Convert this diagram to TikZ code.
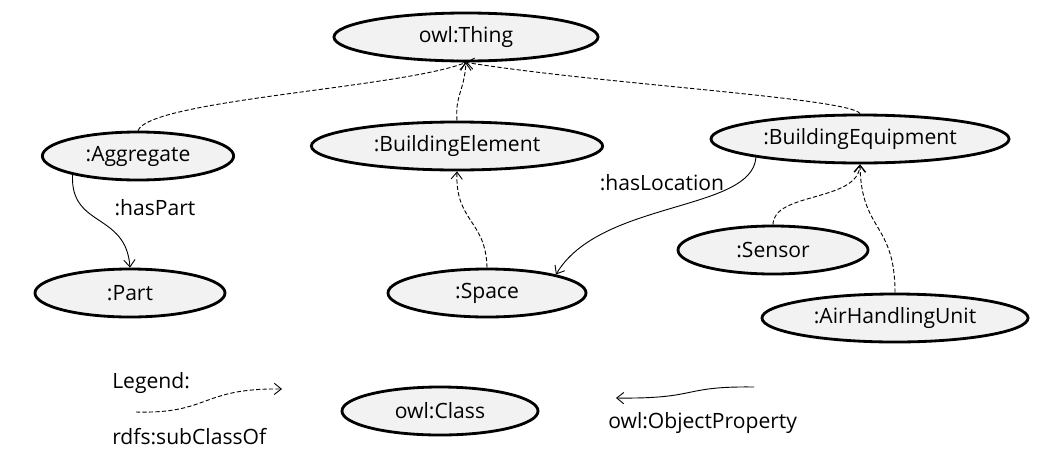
\documentclass[tikz,border=0pt]{standalone}
\usepackage{fontspec}
\setmainfont{Open Sans}
\usepackage{tikz}
\usetikzlibrary{arrows.meta,shapes}

\begin{document}
\begin{tikzpicture}
  [x=0.025cm, y=-0.025cm,
 font=\fontsize{15}{18}\selectfont,
 cls/.style={
  ellipse,
  line width=2pt, % border
  draw=black,
  fill=black!5,
  inner sep=0pt,
  minimum height=1.2cm},
 sub/.style={-{Straight Barb[length=5pt,width=8pt]}, line width=0.65pt,
  dash pattern=on 3pt off 1.6pt},
 prop/.style={-{Straight Barb[length=5pt,width=8pt]}, line width=0.65pt},
 lbl/.style={inner sep=0pt}]
\useasboundingbox (0,0) rectangle (1063,461);
\node (thing) [cls, minimum width=6.6cm] at (466,37) {owl:Thing};
\node (aggregate) [cls, minimum width=4.78cm] at (138,156) {:Aggregate};
\node (element) [cls, minimum width=7.28cm] at (457,146) {:BuildingElement};
\node (equipment) [cls, minimum width=7.45cm] at (860,139) {:BuildingEquipment};
\node (part) [cls, minimum width=4.75cm] at (130,293) {:Part};
\node (space) [cls, minimum width=4.95cm] at (487,293) {:Space};
\node (sensor) [cls, minimum width=4.75cm] at (773,250) {:Sensor};
\node (ahu) [cls, minimum width=6.65cm] at (895,318) {:AirHandlingUnit};
\node (class) [cls, minimum width=4.9cm] at (440,411) {owl:Class};
\node (haspart) [lbl] at (155,208) {:hasPart};
\node (haslocation) [lbl] at (662,183) {:hasLocation};
\node (legend) [lbl, anchor=west] at (112,383) {Legend:};
\node (subclassof) [lbl, anchor=west] at (112,437) {rdfs:subClassOf};
\node (objprop) [lbl, anchor=west] at (608,423) {owl:ObjectProperty};
\coordinate (subA) at (136,412);
\coordinate (subB) at (282,389);
\coordinate (propA) at (754,387);
\coordinate (propB) at (616,398);
% subclass links
\draw[sub] (aggregate.north) .. controls (150,100) and (400,88) .. (thing.south);
\draw[sub] (element.north) .. controls (455,95) and (464,92) .. (thing.south);
\draw[sub] (equipment.north) .. controls (850,98) and (600,84) .. (thing.south);
\draw[sub] (space.north) .. controls (486,220) and (455,222) .. (element.south);
\draw[sub] (sensor.north) .. controls (773,192) and (858,202) .. (equipment.south);
\draw[sub] (ahu.north) .. controls (895,222) and (861,232) .. (equipment.south);
% object properties
\draw[prop] (aggregate.-164) .. controls (70,228) and (126,212) .. (part.north);
\draw[prop] (equipment.-170) .. controls (752,212) and (600,200) .. (space.15);
% legend
\draw[sub] (subA) .. controls (210,414) and (200,388) .. (subB);
\draw[prop] (propA) .. controls (680,386) and (700,399) .. (propB);
\end{tikzpicture}
\end{document}
